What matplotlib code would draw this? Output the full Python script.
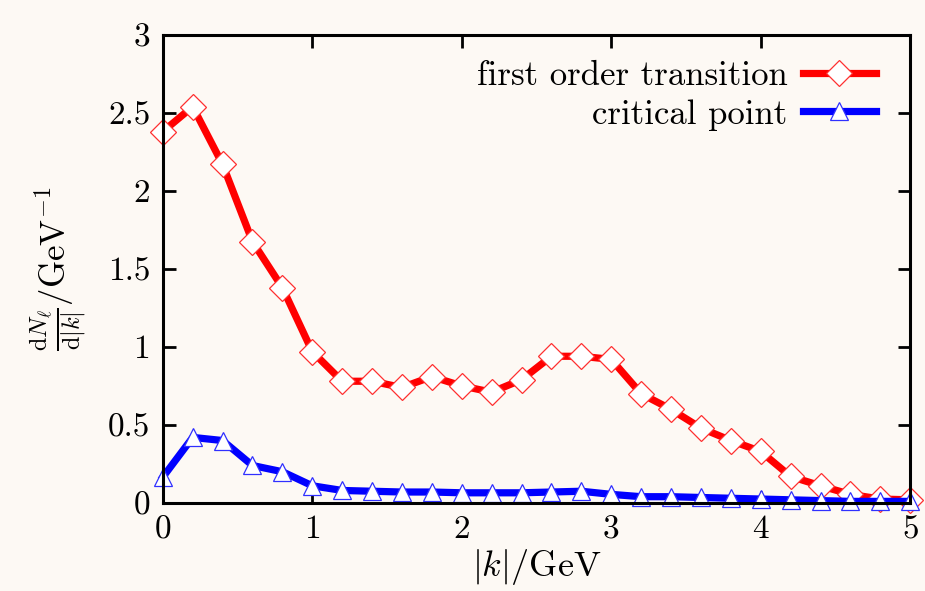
import matplotlib
matplotlib.use("Agg")
import matplotlib.pyplot as plt

plt.rcParams['font.family'] = 'serif'
plt.rcParams['font.serif'] = ['cmr10', 'DejaVu Serif']
plt.rcParams['mathtext.fontset'] = 'cm'
plt.rcParams['axes.unicode_minus'] = False
plt.rcParams['axes.formatter.use_mathtext'] = True

k = [0.0, 0.2, 0.4, 0.6, 0.8, 1.0, 1.2, 1.4, 1.6, 1.8, 2.0, 2.2, 2.4, 2.6, 2.8,
     3.0, 3.2, 3.4, 3.6, 3.8, 4.0, 4.2, 4.4, 4.6, 4.8, 5.0]
first_order = [2.38, 2.54, 2.17, 1.675, 1.38, 0.97, 0.78, 0.78, 0.74, 0.81, 0.75, 0.71,
               0.79, 0.94, 0.94, 0.92, 0.70, 0.60, 0.48, 0.40, 0.33, 0.17, 0.11, 0.055,
               0.025, 0.02]
critical = [0.165, 0.42, 0.40, 0.24, 0.20, 0.11, 0.08, 0.075, 0.07, 0.07, 0.065, 0.065,
            0.065, 0.07, 0.075, 0.055, 0.04, 0.04, 0.035, 0.03, 0.025, 0.02, 0.015, 0.01,
            0.01, 0.01]
labels = ['first order transition', 'critical point']
xticks = [0, 1, 2, 3, 4, 5]
yticks = [0, 0.5, 1, 1.5, 2, 2.5, 3]
yticklabels = ['0', '0.5', '1', '1.5', '2', '2.5', '3']

bg = '#fdf9f4'
fig = plt.figure(figsize=(9.25, 5.91), dpi=100, facecolor=bg)
ax = fig.add_axes([0.176, 0.149, 0.808, 0.792])
ax.set_facecolor(bg)

ax.plot(k, first_order, color='#ff0000', lw=5.2, marker='D', markersize=13.5,
        markerfacecolor='white', markeredgecolor='#ff3030', markeredgewidth=0.9,
        clip_on=False, label=labels[0], zorder=3)
ax.plot(k, critical, color='#0000ff', lw=5.2, marker='^', markersize=13,
        markerfacecolor='white', markeredgecolor='#3030ff', markeredgewidth=0.9,
        clip_on=False, label=labels[1], zorder=4)

ax.set_xlim(0, 5)
ax.set_ylim(0, 3)
ax.set_xticks(xticks)
ax.set_xticklabels([str(t) for t in xticks])
ax.set_yticks(yticks)
ax.set_yticklabels(yticklabels)

for s in ax.spines.values():
    s.set_linewidth(2.2)
    s.set_zorder(5)
ax.tick_params(direction='in', length=9, width=2, top=True, right=True,
               labelsize=24, pad=9)

ax.set_xlabel(r'$|k|/\mathrm{GeV}$', fontsize=26, labelpad=2)
ax.set_ylabel(r'$\frac{\mathrm{d}N_\ell}{\mathrm{d}|k|}/\mathrm{GeV}^{-1}$',
              fontsize=25, labelpad=14)

leg = ax.legend(loc='upper right', frameon=False, markerfirst=False, fontsize=25,
                handlelength=2.1, handletextpad=0.45, labelspacing=0.2,
                borderaxespad=0.2, bbox_to_anchor=(0.982, 0.99))

fig.savefig('out.png', dpi=100, facecolor=bg)
